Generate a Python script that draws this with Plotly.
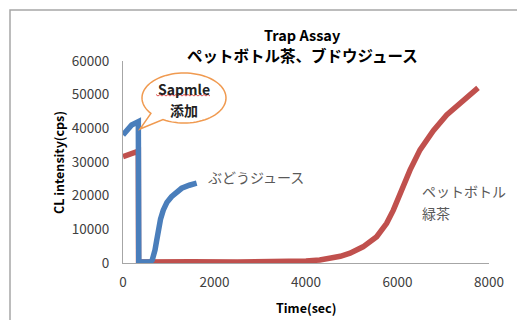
import numpy as np
import plotly.graph_objects as go

# Time (sec) and CL intensity (cps) for the two samples
grape_time = [0, 100, 190, 290, 335, 345, 450, 600, 640, 670, 700, 735, 772, 820, 880, 960, 1060,
              1160, 1282, 1450, 1610]
grape_cps = [38000, 39800, 41000, 41700, 42000, 300, 300, 300, 900, 2200, 3900, 6600, 9800, 13000,
             15700, 18000, 19700, 21000, 22200, 23100, 23700]

tea_time = [0, 150, 300, 335, 340, 700, 1500, 2500, 3500, 4000, 4300, 4525, 4750, 4962, 5246, 5545,
            5763, 5909, 6055, 6273, 6492, 6783, 7075, 7439, 7760]
tea_cps = [31600, 32400, 33100, 33200, 300, 400, 400, 300, 400, 600, 900, 1300, 2000, 2900, 4800, 7800,
           11800, 15700, 20700, 27600, 33600, 39300, 44000, 48500, 52000]

x_ticks = [0, 2000, 4000, 6000, 8000]
y_ticks = [0, 10000, 20000, 30000, 40000, 50000, 60000]

W, H = 517, 320
L, R, T, B = 123, 28, 61, 57
PW, PH = W - L - R, H - T - B

FONT = "Noto Sans CJK JP"


def px(x, y):
    """pixel position -> paper coordinates"""
    return (x - L) / PW, (H - B - y) / PH


fig = go.Figure()
fig.add_trace(go.Scatter(x=tea_time, y=tea_cps, mode="lines",
                         line=dict(color="#C0504D", width=5.5), showlegend=False))
fig.add_trace(go.Scatter(x=grape_time, y=grape_cps, mode="lines",
                         line=dict(color="#4A7EBB", width=5.5), showlegend=False))

shapes = []
# outer frame
fx0, fy1 = px(10, 10)
fx1, fy0 = px(530, 330)
shapes.append(dict(type="rect", xref="paper", yref="paper", x0=fx0, x1=fx1, y0=fy0, y1=fy1,
                   line=dict(color="#A6A6A6", width=1.5), layer="below"))

# speech bubble
cx, cy, rx, ry = 184, 98, 42, 25
th = np.radians(np.linspace(142, 480, 80))
pts = [(cx + rx * np.cos(t), cy + ry * np.sin(t)) for t in th]
pts.append((140, 129))
path = ""
for i, (a, b) in enumerate(pts):
    u, v = px(a, b)
    path += ("M" if i == 0 else "L") + f"{u:.4f},{v:.4f} "
path += "Z"
shapes.append(dict(type="path", xref="paper", yref="paper", path=path,
                   fillcolor="white", line=dict(color="#F09A50", width=1.5)))

# wavy underline
wpts = []
for i, xx in enumerate(np.arange(156, 211, 2)):
    wpts.append((xx, 95 + (1 if i % 2 else -0.5)))
wpath = ""
for i, (a, b) in enumerate(wpts):
    u, v = px(a, b)
    wpath += ("M" if i == 0 else "L") + f"{u:.4f},{v:.4f} "
shapes.append(dict(type="path", xref="paper", yref="paper", path=wpath,
                   line=dict(color="#E05050", width=1)))

annotations = []


def text(x, y, s, size, color="#000000", bold=False, xanchor="center", angle=0):
    u, v = px(x, y)
    annotations.append(dict(xref="paper", yref="paper", x=u, y=v, text=f"<b>{s}</b>" if bold else s,
                            showarrow=False, xanchor=xanchor, yanchor="middle", textangle=angle,
                            font=dict(family=FONT, size=size, color=color)))


text(302, 34, "Trap Assay", 14.5, bold=True)
text(302, 55, "ペットボトル茶、ブドウジュース", 15.5, bold=True)
text(306, 307, "Time(sec)", 12.5, bold=True)
text(58, 163, "CL intensity(cps)", 12.5, bold=True, angle=-90)
text(184, 89, "Sapmle", 14, bold=True, color="#222222")
text(184, 110, "添加", 14, bold=True, color="#222222")
text(206, 177, "ぶどうジュース", 14, color="#595959", xanchor="left")
text(420, 191, "ペットボトル", 14, color="#595959", xanchor="left")
text(420, 213, "緑茶", 14, color="#595959", xanchor="left")

axis_common = dict(showgrid=False, zeroline=False, showline=True, linecolor="#A6A6A6", linewidth=1,
                   ticks="", tickfont=dict(family=FONT, size=13.5, color="#404040"))

fig.update_layout(
    width=W, height=H,
    margin=dict(l=L, r=R, t=T, b=B),
    paper_bgcolor="white", plot_bgcolor="white",
    xaxis=dict(range=[0, 8000], tickvals=x_ticks, ticktext=[str(v) for v in x_ticks],
               ticklabelstandoff=7, **axis_common),
    yaxis=dict(range=[0, 60000], tickvals=y_ticks, ticktext=[str(v) for v in y_ticks],
               ticklabelstandoff=10, **axis_common),
    shapes=shapes,
    annotations=annotations,
)

fig.write_html("out.html")
